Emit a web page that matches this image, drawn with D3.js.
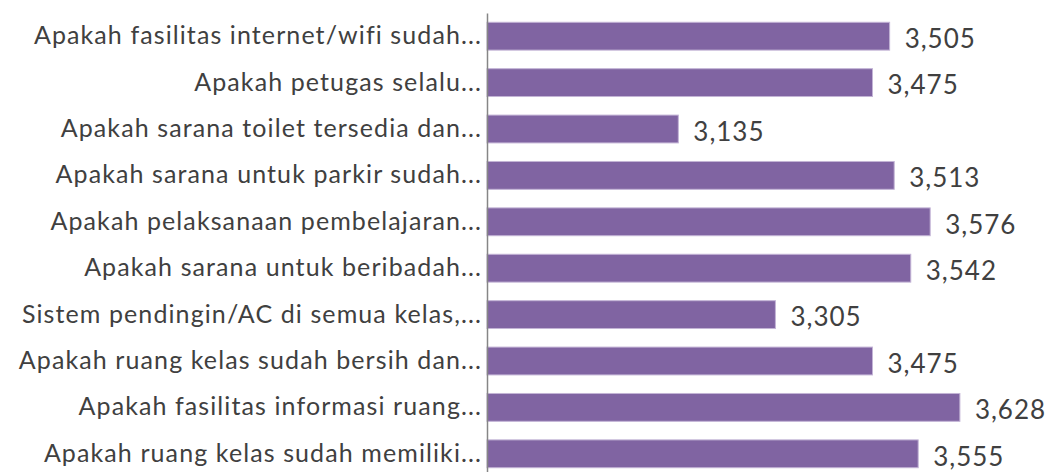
<!DOCTYPE html>
<html>
<head>
<meta charset="utf-8">
<script src="https://cdn.jsdelivr.net/npm/d3@7"></script>
<style>
  html, body { margin: 0; padding: 0; background: #ffffff; overflow: hidden; }
  svg { display: block; }
  text { font-family: "Lato", "Open Sans", sans-serif; fill: #404040; }
</style>
</head>
<body>
<div id="chart"></div>
<script>
const categories = [
    "Apakah fasilitas internet/wifi sudah...",
    "Apakah petugas selalu...",
    "Apakah sarana toilet tersedia dan...",
    "Apakah sarana untuk parkir sudah...",
    "Apakah pelaksanaan pembelajaran...",
    "Apakah sarana untuk beribadah...",
    "Sistem pendingin/AC di semua kelas,...",
    "Apakah ruang kelas sudah bersih dan...",
    "Apakah fasilitas informasi ruang...",
    "Apakah ruang kelas sudah memiliki...",
];
const values = [3.505, 3.475, 3.135, 3.513, 3.576, 3.542, 3.305, 3.475, 3.628, 3.555];
const xDomain = [2.8, 3.7];

const WIDTH = 1047;
const HEIGHT = 472;
const MARGIN = { top: 13, right: 46, bottom: -5, left: 487 };

const fmt = (v) => d3.format(".3f")(v).replace(".", ",");

const svg = d3
    .select("#chart")
    .append("svg")
    .attr("width", WIDTH)
    .attr("height", HEIGHT);

const xScale = d3.scaleLinear().domain(xDomain).range([MARGIN.left, WIDTH - MARGIN.right]);
const yScale = d3
    .scaleBand()
    .domain(categories)
    .range([MARGIN.top, HEIGHT - MARGIN.bottom])
    .paddingInner(0.4)
    .paddingOuter(0.2);

const data = categories.map((c, i) => ({ category: c, value: values[i] }));

// bars
svg.append("g")
    .selectAll("rect.bar")
    .data(data)
    .join("rect")
    .attr("class", "bar")
    .attr("x", xScale(xDomain[0]))
    .attr("y", (d) => yScale(d.category))
    .attr("width", (d) => xScale(d.value) - xScale(xDomain[0]))
    .attr("height", yScale.bandwidth())
    .attr("fill", "#8064a2")
    .attr("stroke", "#c3b4d6")
    .attr("stroke-width", 1);

// value labels
svg.append("g")
    .selectAll("text.value")
    .data(data)
    .join("text")
    .attr("class", "value")
    .attr("x", (d) => xScale(d.value) + 15)
    .attr("y", (d) => yScale(d.category) + yScale.bandwidth() / 2)
    .attr("dy", "0.45em")
    .attr("font-size", 26)
    .attr("letter-spacing", 1)
    .text((d) => fmt(d.value));

// category axis
const yAxisG = svg
    .append("g")
    .attr("transform", `translate(${MARGIN.left},0)`)
    .call(d3.axisLeft(yScale).tickSize(0).tickPadding(5).tickSizeOuter(0));

yAxisG.select(".domain").attr("stroke", "#868686").attr("stroke-width", 1.5);
yAxisG
    .selectAll(".tick text")
    .attr("font-size", 25)
    .attr("letter-spacing", 1.1)
    .attr("font-family", "Lato, 'Open Sans', sans-serif")
    .attr("fill", "#404040");
</script>
</body>
</html>
